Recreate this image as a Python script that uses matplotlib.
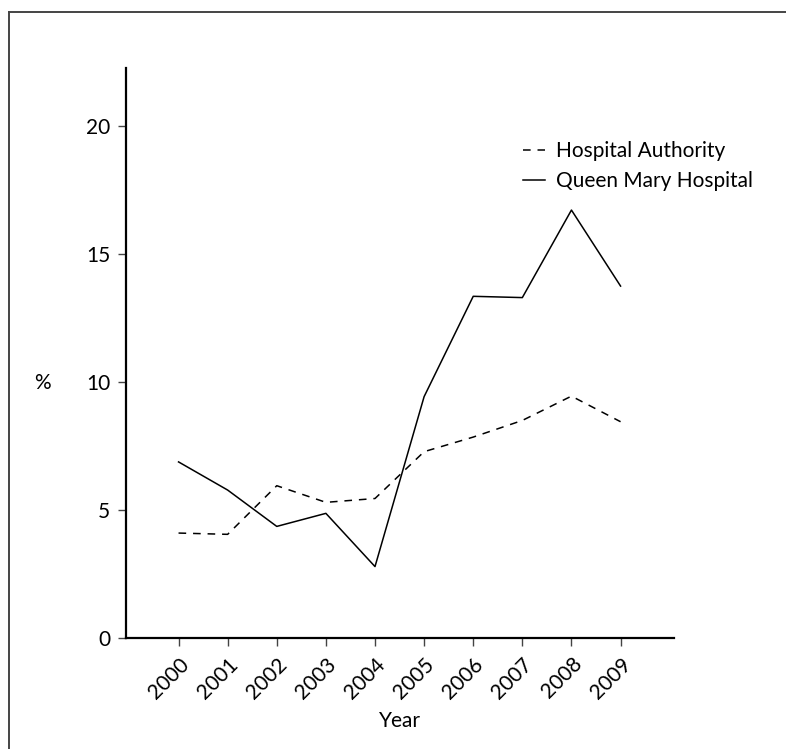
import matplotlib
matplotlib.use('Agg')
import matplotlib.pyplot as plt
from matplotlib.lines import Line2D

years = [2000, 2001, 2002, 2003, 2004, 2005, 2006, 2007, 2008, 2009]
hospital_authority = [4.1, 4.05, 5.95, 5.3, 5.45, 7.28, 7.85, 8.5, 9.45, 8.45]
queen_mary = [6.88, 5.78, 4.36, 4.87, 2.79, 9.43, 13.35, 13.3, 16.72, 13.75]
y_ticks = [0, 5, 10, 15, 20]

plt.rcParams['font.family'] = ['Lato', 'DejaVu Sans']

fig = plt.figure(figsize=(7.86, 7.49), dpi=100)
ax = fig.add_axes([0.1603, 0.1482, 0.857 - 0.1603, 0.9092 - 0.1482])

ax.plot(years, hospital_authority, color='black', lw=1.1, dashes=(5, 4.5),
        label='Hospital Authority')
ax.plot(years, queen_mary, color='black', lw=1.1, label='Queen Mary Hospital')

ax.set_xlim(1998.93, 2010.08)
ax.set_ylim(0, 22.27)
ax.set_xticks(years)
ax.set_xticklabels([str(y) for y in years], rotation=45, ha='right',
                   rotation_mode='anchor', fontsize=15)
ax.set_yticks(y_ticks)
ax.set_yticklabels([str(t) for t in y_ticks], fontsize=15)
ax.tick_params(axis='both', direction='out', length=5.5, width=1.0,
               color='#444444', pad=6)

for side in ['top', 'right']:
    ax.spines[side].set_visible(False)
for side in ['left', 'bottom']:
    ax.spines[side].set_linewidth(1.6)

ax.set_xlabel('Year', fontsize=15, labelpad=6)
fig.text(42 / 786, 1 - 383 / 749, '%', fontsize=15, ha='center', va='center')

ax.legend(loc='upper left', bbox_to_anchor=((523 - 126) / (673.7 - 126), (638 - 141) / (638 - 68)),
          frameon=False, fontsize=15, handlelength=1.05, handletextpad=0.55,
          labelspacing=0.5, borderaxespad=0, borderpad=0)

# figure frame (only top and left edges fall inside the image)
fig.add_artist(Line2D([9 / 786, 9 / 786], [0, 1 - 12 / 749], transform=fig.transFigure,
                      color='#444444', lw=1.4))
fig.add_artist(Line2D([9 / 786, 1], [1 - 12 / 749, 1 - 12 / 749], transform=fig.transFigure,
                      color='#444444', lw=1.4))

fig.savefig('out.png', dpi=100)
